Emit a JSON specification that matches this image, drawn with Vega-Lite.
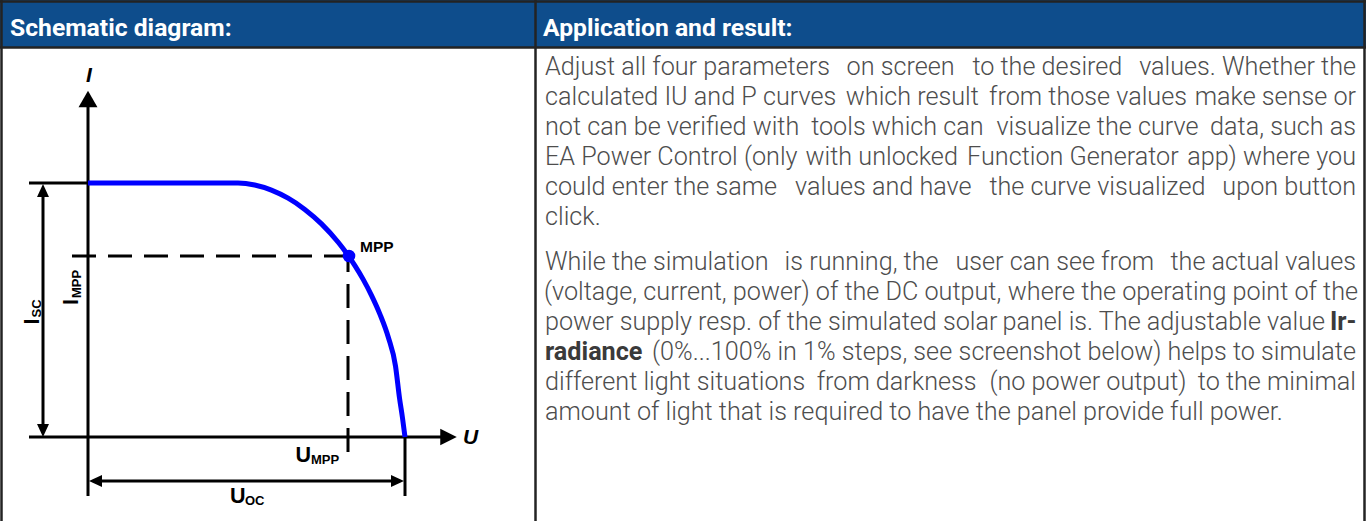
{
  "$schema": "https://vega.github.io/schema/vega-lite/v6.json",
  "width": 1366,
  "height": 521,
  "padding": 0,
  "autosize": {"type": "none"},
  "background": "#ffffff",
  "config": {"view": {"stroke": null}},
  "datasets": {
    "header": [{"x": 0, "x2": 1366, "y": 0, "y2": 47}],
    "borders": [
      {"x": 0, "y": 1.5, "x2": 1366, "y2": 1.5},
      {"x": 0, "y": 47.5, "x2": 1366, "y2": 47.5},
      {"x": 1.5, "y": 0, "x2": 1.5, "y2": 521},
      {"x": 535.5, "y": 0, "x2": 535.5, "y2": 521},
      {"x": 1364.5, "y": 0, "x2": 1364.5, "y2": 521}
    ],
    "headerText": [
      {"x": 10, "y": 36, "text": "Schematic diagram:"},
      {"x": 543, "y": 36, "text": "Application and result:"}
    ],
    "bodyLeft": [
      {"x": 545, "y": 75, "text": "Adjust all four parameters"},
      {"x": 972.4, "y": 75, "text": "to the desired"},
      {"x": 545, "y": 105, "text": "calculated IU and P curves"},
      {"x": 989.1, "y": 105, "text": "from those values"},
      {"x": 545, "y": 135, "text": "not can be verified with"},
      {"x": 996.4, "y": 135, "text": "visualize the curve"},
      {"x": 545, "y": 165, "text": "EA Power Control (only"},
      {"x": 967.1, "y": 165, "text": "Function Generator"},
      {"x": 545, "y": 195, "text": "could enter the same"},
      {"x": 989.4, "y": 195, "text": "the curve visualized"},
      {"x": 545, "y": 225, "text": "click."},
      {"x": 545, "y": 270, "text": "While the simulation"},
      {"x": 955.4, "y": 270, "text": "user can see from"},
      {"x": 544, "y": 300, "text": "(voltage, current, power) of the DC output,"},
      {"x": 545, "y": 330, "text": "power supply resp. of the simulated solar"},
      {"x": 652, "y": 360, "text": "(0%...100% in 1% steps, see"},
      {"x": 545, "y": 390, "text": "different light situations"},
      {"x": 989.4, "y": 390, "text": "(no power output)"},
      {"x": 545, "y": 420, "text": "amount of light that is required to have the panel provide full power."}
    ],
    "bodyRight": [
      {"x": 954.6, "y": 75, "text": "on screen"},
      {"x": 1356, "y": 75, "text": "values. Whether the"},
      {"x": 978.9, "y": 105, "text": "which result"},
      {"x": 1356, "y": 105, "text": "make sense or"},
      {"x": 983.6, "y": 135, "text": "tools which can"},
      {"x": 1356, "y": 135, "text": "data, such as"},
      {"x": 957.9, "y": 165, "text": "with unlocked"},
      {"x": 1356, "y": 165, "text": "app) where you"},
      {"x": 971.6, "y": 195, "text": "values and have"},
      {"x": 1356, "y": 195, "text": "upon button"},
      {"x": 938.6, "y": 270, "text": "is running, the"},
      {"x": 1356, "y": 270, "text": "the actual values"},
      {"x": 1358, "y": 300, "text": "where the operating point of the"},
      {"x": 1325, "y": 330, "text": "panel is. The adjustable value"},
      {"x": 1356, "y": 360, "text": "screenshot below) helps to simulate"},
      {"x": 976.6, "y": 390, "text": "from darkness"},
      {"x": 1356, "y": 390, "text": "to the minimal"}
    ],
    "bodyBoldLeft": [
      {"x": 1330, "y": 330, "text": "Ir-"},
      {"x": 545, "y": 360, "text": "radiance"}
    ],
    "solidLines": [
      {"x": 88, "y": 496, "x2": 88, "y2": 105},
      {"x": 29, "y": 437, "x2": 442, "y2": 437},
      {"x": 29, "y": 183, "x2": 88, "y2": 183},
      {"x": 43, "y": 195, "x2": 43, "y2": 426},
      {"x": 405, "y": 437, "x2": 405, "y2": 496},
      {"x": 100, "y": 481, "x2": 393, "y2": 481}
    ],
    "dashedLines": [
      {"x": 348, "y": 256, "x2": 72, "y2": 256},
      {"x": 348, "y": 452, "x2": 348, "y2": 256}
    ],
    "bigArrows": [
      {"x": 88, "y": 99, "dir": "axisUp"},
      {"x": 448.5, "y": 437, "dir": "axisRight"}
    ],
    "smallArrows": [
      {"x": 43, "y": 190.5, "dir": "up"},
      {"x": 43, "y": 430.5, "dir": "down"},
      {"x": 95.5, "y": 481, "dir": "left"},
      {"x": 397.5, "y": 481, "dir": "right"}
    ],
    "curve": [
      {"o": 0, "x": 88, "y": 183},
      {"o": 1, "x": 238, "y": 183},
      {"o": 2, "x": 254.7, "y": 185},
      {"o": 3, "x": 271.4, "y": 190.1},
      {"o": 4, "x": 288.1, "y": 198.2},
      {"o": 5, "x": 304.8, "y": 209.4},
      {"o": 6, "x": 321.5, "y": 223.9},
      {"o": 7, "x": 338.2, "y": 242.3},
      {"o": 8, "x": 346.6, "y": 253.3},
      {"o": 9, "x": 354.9, "y": 265.6},
      {"o": 10, "x": 363.3, "y": 279.6},
      {"o": 11, "x": 371.6, "y": 295.6},
      {"o": 12, "x": 380, "y": 314.4},
      {"o": 13, "x": 388.3, "y": 337.3},
      {"o": 14, "x": 395.5, "y": 366},
      {"o": 15, "x": 399.5, "y": 398},
      {"o": 16, "x": 402.5, "y": 418},
      {"o": 17, "x": 405, "y": 437}
    ],
    "mpp": [{"x": 349, "y": 256}],
    "italicLabels": [
      {"x": 86, "y": 82, "text": "I"},
      {"x": 463, "y": 444, "text": "U"}
    ],
    "mainLabels": [
      {"x": 295.5, "y": 462, "text": "U"},
      {"x": 230, "y": 503, "text": "U"}
    ],
    "subLabels": [
      {"x": 311, "y": 463.5, "text": "MPP"},
      {"x": 245, "y": 505, "text": "OC"}
    ],
    "mppLabel": [{"x": 360, "y": 252, "text": "MPP"}],
    "rotMain": [
      {"x": 38.5, "y": 324.5, "text": "I"},
      {"x": 78, "y": 305, "text": "I"}
    ],
    "rotSub": [
      {"x": 40.5, "y": 317.5, "text": "SC"},
      {"x": 80.5, "y": 298, "text": "MPP"}
    ]
  },
  "encoding": {
    "x": {"field": "x", "type": "quantitative", "scale": {"domain": [0, 1366], "nice": false, "zero": false}, "axis": null},
    "y": {"field": "y", "type": "quantitative", "scale": {"domain": [0, 521], "nice": false, "zero": false, "reverse": true}, "axis": null}
  },
  "layer": [
    {
      "data": {"name": "header"},
      "mark": {"type": "rect", "color": "#0e4d8c"},
      "encoding": {"x2": {"field": "x2"}, "y2": {"field": "y2"}}
    },
    {
      "data": {"name": "borders"},
      "mark": {"type": "rule", "color": "#232323", "strokeWidth": 2.5},
      "encoding": {"x2": {"field": "x2"}, "y2": {"field": "y2"}}
    },
    {
      "data": {"name": "headerText"},
      "mark": {"type": "text", "align": "left", "baseline": "alphabetic", "font": "Roboto", "fontWeight": "bold", "fontSize": 24.7, "color": "#ffffff"},
      "encoding": {"text": {"field": "text"}}
    },
    {
      "data": {"name": "bodyLeft"},
      "mark": {"type": "text", "align": "left", "baseline": "alphabetic", "font": "Roboto", "fontWeight": 300, "fontSize": 25.2, "color": "#4d4d4d"},
      "encoding": {"text": {"field": "text"}}
    },
    {
      "data": {"name": "bodyRight"},
      "mark": {"type": "text", "align": "right", "baseline": "alphabetic", "font": "Roboto", "fontWeight": 300, "fontSize": 25.2, "color": "#4d4d4d"},
      "encoding": {"text": {"field": "text"}}
    },
    {
      "data": {"name": "bodyBoldLeft"},
      "mark": {"type": "text", "align": "left", "baseline": "alphabetic", "font": "Roboto", "fontWeight": "bold", "fontSize": 25.2, "color": "#3a3a3a"},
      "encoding": {"text": {"field": "text"}}
    },
    {
      "data": {"name": "solidLines"},
      "mark": {"type": "rule", "color": "#000000", "strokeWidth": 3},
      "encoding": {"x2": {"field": "x2"}, "y2": {"field": "y2"}}
    },
    {
      "data": {"name": "dashedLines"},
      "mark": {"type": "rule", "color": "#000000", "strokeWidth": 3, "strokeDash": [24, 12]},
      "encoding": {"x2": {"field": "x2"}, "y2": {"field": "y2"}}
    },
    {
      "data": {"name": "bigArrows"},
      "mark": {"type": "point", "filled": true, "color": "#000000", "opacity": 1, "size": 272},
      "encoding": {
        "shape": {"field": "dir", "type": "nominal", "legend": null, "scale": {"domain": ["axisUp", "axisRight", "up", "down", "left", "right"], "range": ["M-1.15,1L0,-1L1.15,1Z", "M-1,-1L1,0L-1,1Z", "M-0.92,1L0,-1L0.92,1Z", "M-0.92,-1L0,1L0.92,-1Z", "M1,-0.92L-1,0L1,0.92Z", "M-1,-0.92L1,0L-1,0.92Z"]}}
      }
    },
    {
      "data": {"name": "smallArrows"},
      "mark": {"type": "point", "filled": true, "color": "#000000", "opacity": 1, "size": 169},
      "encoding": {
        "shape": {"field": "dir", "type": "nominal", "legend": null, "scale": {"domain": ["axisUp", "axisRight", "up", "down", "left", "right"], "range": ["M-1.15,1L0,-1L1.15,1Z", "M-1,-1L1,0L-1,1Z", "M-0.92,1L0,-1L0.92,1Z", "M-0.92,-1L0,1L0.92,-1Z", "M1,-0.92L-1,0L1,0.92Z", "M-1,-0.92L1,0L-1,0.92Z"]}}
      }
    },
    {
      "data": {"name": "curve"},
      "mark": {"type": "line", "color": "#0000ff", "strokeWidth": 5, "interpolate": "monotone"},
      "encoding": {"order": {"field": "o", "type": "quantitative"}}
    },
    {
      "data": {"name": "mpp"},
      "mark": {"type": "point", "filled": true, "color": "#0000ff", "opacity": 1, "size": 160}
    },
    {
      "data": {"name": "italicLabels"},
      "mark": {"type": "text", "align": "left", "baseline": "alphabetic", "font": "Liberation Sans", "fontWeight": "bold", "fontStyle": "italic", "fontSize": 21, "color": "#000000"},
      "encoding": {"text": {"field": "text"}}
    },
    {
      "data": {"name": "mainLabels"},
      "mark": {"type": "text", "align": "left", "baseline": "alphabetic", "font": "Liberation Sans", "fontWeight": "bold", "fontSize": 21.5, "color": "#000000"},
      "encoding": {"text": {"field": "text"}}
    },
    {
      "data": {"name": "subLabels"},
      "mark": {"type": "text", "align": "left", "baseline": "alphabetic", "font": "Liberation Sans", "fontWeight": "bold", "fontSize": 13, "color": "#000000"},
      "encoding": {"text": {"field": "text"}}
    },
    {
      "data": {"name": "mppLabel"},
      "mark": {"type": "text", "align": "left", "baseline": "alphabetic", "font": "Liberation Sans", "fontWeight": "bold", "fontSize": 15.5, "color": "#000000"},
      "encoding": {"text": {"field": "text"}}
    },
    {
      "data": {"name": "rotMain"},
      "mark": {"type": "text", "align": "left", "baseline": "alphabetic", "angle": 270, "font": "Liberation Sans", "fontWeight": "bold", "fontSize": 21.5, "color": "#000000"},
      "encoding": {"text": {"field": "text"}}
    },
    {
      "data": {"name": "rotSub"},
      "mark": {"type": "text", "align": "left", "baseline": "alphabetic", "angle": 270, "font": "Liberation Sans", "fontWeight": "bold", "fontSize": 13, "color": "#000000"},
      "encoding": {"text": {"field": "text"}}
    }
  ]
}
